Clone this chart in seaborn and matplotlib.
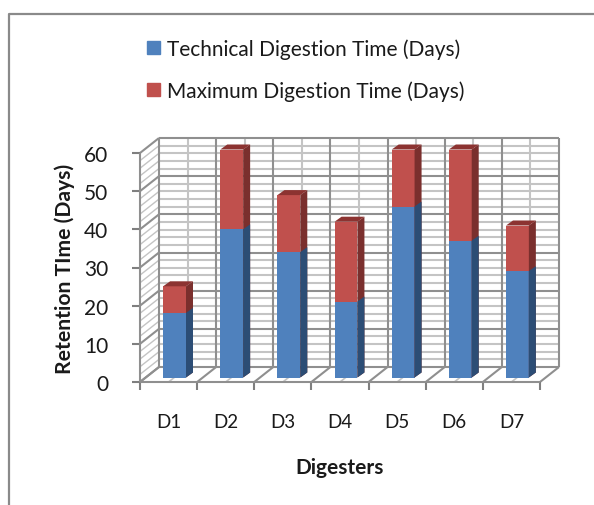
import matplotlib
matplotlib.use("Agg")
import numpy as np
import pandas as pd
import seaborn as sns
import matplotlib.pyplot as plt
from matplotlib.lines import Line2D
from matplotlib.patches import Patch, Polygon
from matplotlib.transforms import Affine2D

sns.set_theme(style="white")
plt.rcParams["font.family"] = ["Lato", "DejaVu Sans"]

digesters = ["D1", "D2", "D3", "D4", "D5", "D6", "D7"]
technical = [17, 39, 33, 20, 45, 36, 28]
maximum = [7, 21, 15, 21, 15, 24, 12]
y_ticks = [0, 10, 20, 30, 40, 50, 60]
y_minor = [2, 4, 6, 8, 12, 14, 16, 18, 22, 24, 26, 28, 32, 34, 36, 38, 42, 44, 46, 48, 52, 54, 56, 58]

df = pd.DataFrame({"digester": digesters, "technical": technical, "maximum": maximum})
df["total"] = df["technical"] + df["maximum"]

BLUE, BLUE_SIDE = "#4f81bd", "#2c4d75"
RED, RED_SIDE, RED_TOP = "#c0504d", "#7a2f2d", "#8c3331"
MAJOR, MINOR = "#8f8f8f", "#c4c4c4"
INK = "#1a1a1a"
W, H = 594, 506


def px_axes(left, top, right, bottom):
    return fig.add_axes([left / W, 1 - bottom / H, (right - left) / W, (bottom - top) / H])


fig = plt.figure(figsize=(W / 100, H / 100), dpi=100)

# front plane of the fake 3d box: holds ticks and labels
ax = px_axes(140, 154, 540, 383)
ax.set_facecolor("none")
for s in ax.spines.values():
    s.set_visible(False)
ax.set_xlim(-0.5, 6.5)
ax.set_ylim(0, 60)
ax.set_xticks(range(7))
ax.set_xticklabels(digesters)
ax.set_yticks(y_ticks)
ax.tick_params(axis="y", length=0, pad=23, labelsize=15, labelcolor=INK)
ax.tick_params(axis="x", length=0, pad=22, labelsize=13.5, labelcolor=INK)
ax.set_xlabel("Digesters", fontsize=15, fontweight="bold", color=INK, labelpad=20)
ax.set_ylabel("Retention TIme (Days)", fontsize=15.2, fontweight="bold", color=INK, labelpad=6)

back = ax.transData + Affine2D().translate(19, 15)
kw = dict(clip_on=False, solid_capstyle="butt")
x0, x1 = -0.5, 6.5
edges = np.arange(-0.5, 7)
dx, dy = 19 / (400 / 7), 15 / (229 / 60)

# minor grid first so the major lines sit on top
for v in y_minor:
    ax.plot([x0, x1], [v, v], transform=back, color=MINOR, lw=1.5, **kw)
    ax.plot([x0, x0 + dx], [v, v + dy], color=MINOR, lw=1, **kw)
for c in range(7):
    ax.plot([c, c], [0, 60], transform=back, color=MINOR, lw=1.5, **kw)
    ax.plot([c, c + dx], [0, dy], color=MINOR, lw=1.2, **kw)
for v in y_ticks:
    ax.plot([x0, x1], [v, v], transform=back, color=MAJOR, lw=1.5, **kw)
    ax.plot([x0, x0 + dx], [v, v + dy], color=MAJOR, lw=1.5, **kw)
    ax.plot([x0 - 0.14, x0], [v, v], color="#7f7f7f", lw=1.5, **kw)
for e in edges:
    ax.plot([e, e], [0, 60], transform=back, color=MAJOR, lw=1.5, **kw)
    ax.plot([e, e + dx], [0, dy], color=MAJOR, lw=1.5, **kw)
    ax.plot([e, e], [0, -2.1], color="#7f7f7f", lw=1.5, **kw)
ax.plot([x0, x1], [0, 0], color=MAJOR, lw=1.5, **kw)
ax.plot([x0, x0], [0, 60], color=MAJOR, lw=1.5, **kw)

# bars live on a plane a little behind the front edge
ax_bars = px_axes(146, 150.5, 546, 378.5)
ax_bars.patch.set_alpha(0)
sns.barplot(data=df, x="digester", y="total", color=RED, saturation=1, width=0.4, linewidth=0, ax=ax_bars)
n_red = len(ax_bars.patches)
sns.barplot(data=df, x="digester", y="technical", color=BLUE, saturation=1, width=0.4, linewidth=0, ax=ax_bars)
ax_bars.set_xlim(-0.5, 6.5)
ax_bars.set_ylim(0, 60)
ax_bars.axis("off")

bx, by = 7 / (400 / 7), 5 / (228 / 60)
for i, bar in enumerate(list(ax_bars.patches)):
    l, r, h = bar.get_x(), bar.get_x() + bar.get_width(), bar.get_height()
    side = RED_SIDE if i < n_red else BLUE_SIDE
    ax_bars.add_patch(Polygon([(r, 0), (r + bx, by), (r + bx, h + by), (r, h)], color=side, lw=0, clip_on=False))
    if i < n_red:
        ax_bars.add_patch(Polygon([(l, h), (l + bx, h + by), (r + bx, h + by), (r, h)], color=RED_TOP, lw=0, clip_on=False))
    bar.set_clip_on(False)

handles = [Patch(color=BLUE, label="Technical Digestion Time (Days)"),
           Patch(color=RED, label="Maximum Digestion Time (Days)")]
fig.legend(handles=handles, loc="upper left", bbox_to_anchor=(147 / W, 1 - 39 / H), frameon=False,
           fontsize=15, labelspacing=1.05, handlelength=0.62, handleheight=0.62, handletextpad=0.33,
           labelcolor=INK, borderpad=0, borderaxespad=0)

# chart area border, only top and left are in the crop
fig.add_artist(Line2D([9 / W, 9 / W, 1], [0, 1 - 15 / H, 1 - 15 / H], color="#8a8a8a", lw=1.6))

fig.savefig("out.png", dpi=100)
